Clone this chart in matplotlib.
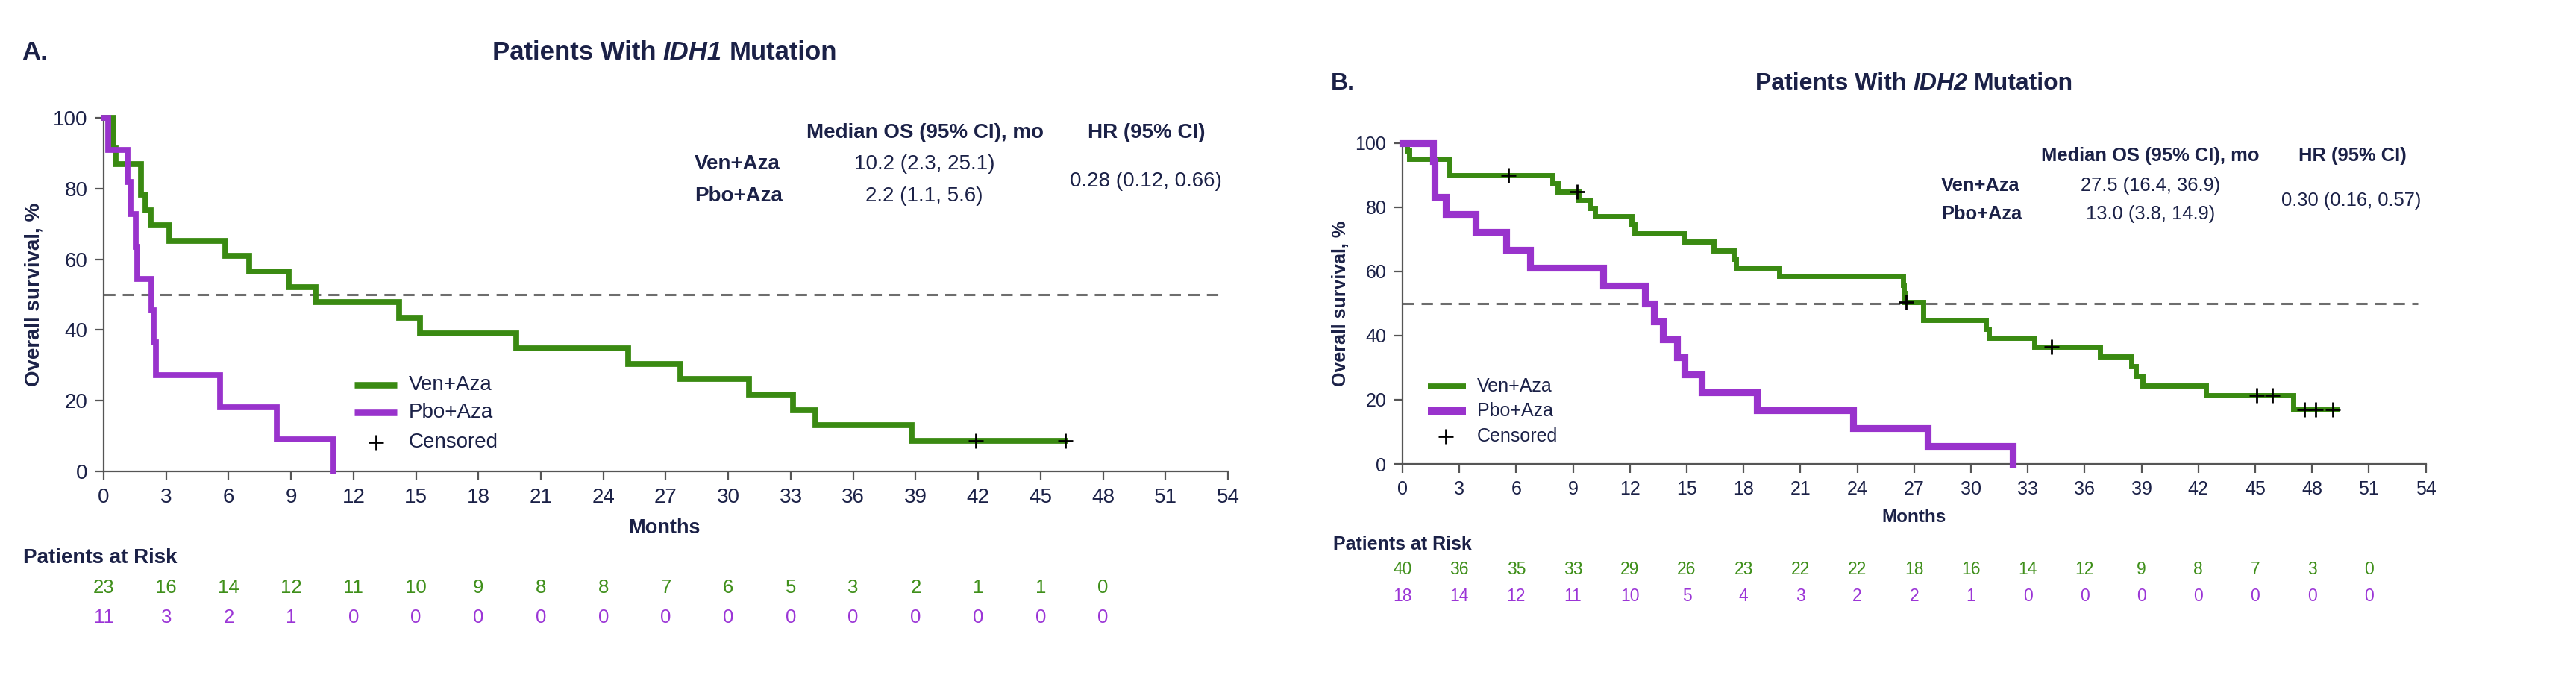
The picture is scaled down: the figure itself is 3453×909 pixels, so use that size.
import matplotlib
matplotlib.use("Agg")
import matplotlib.pyplot as plt
from matplotlib.lines import Line2D
from matplotlib.transforms import blended_transform_factory

plt.rcParams['font.family'] = ['Liberation Sans', 'DejaVu Sans']

navy = '#1b2147'
green = '#3a8a12'
purple = '#9933cc'
green_txt = '#3f8f1a'
purple_txt = '#9b35d6'

# ---- Panel A: IDH1 ----
a_ven_t = [0, 0.45, 0.57, 1.8, 2.0, 2.27, 3.16, 5.84, 6.98, 8.9, 10.16, 14.2, 15.2,
           19.8, 25.2, 27.7, 31.0, 33.1, 34.2, 38.8, 46.2]
a_ven_s = [100, 91.3, 87.0, 78.3, 73.9, 69.6, 65.2, 60.9, 56.5, 52.2, 47.8, 43.5, 39.1,
           34.8, 30.4, 26.1, 21.7, 17.4, 13.0, 8.7, 8.7]
a_ven_cens_t = [41.9, 46.2]
a_ven_cens_s = [8.7, 8.7]
a_pbo_t = [0, 0.2, 1.13, 1.3, 1.55, 1.62, 2.3, 2.4, 2.5, 5.6, 8.3, 11.05]
a_pbo_s = [100, 90.9, 81.8, 72.7, 63.6, 54.5, 45.5, 36.4, 27.3, 18.2, 9.1, 0]
a_risk_months = list(range(0, 49, 3))
a_risk_ven = [23, 16, 14, 12, 11, 10, 9, 8, 8, 7, 6, 5, 3, 2, 1, 1, 0]
a_risk_pbo = [11, 3, 2, 1, 0, 0, 0, 0, 0, 0, 0, 0, 0, 0, 0, 0, 0]
a_median = ['10.2 (2.3, 25.1)', '2.2 (1.1, 5.6)']
a_hr = '0.28 (0.12, 0.66)'

# ---- Panel B: IDH2 ----
b_ven_t = [0, 0.23, 0.36, 2.48, 7.9, 8.17, 9.3, 9.93, 10.16, 12.1, 12.25, 14.9, 16.4,
           17.5, 17.6, 19.9, 26.4, 26.45, 26.5, 27.5, 30.8, 30.95, 33.35, 36.8, 38.46,
           38.7, 39.05, 42.4, 47.0, 49.3]
b_ven_s = [100, 97.5, 95.0, 90.0, 87.4, 84.9, 82.2, 79.6, 77.1, 74.5, 71.8, 69.2, 66.5,
           63.8, 61.2, 58.5, 55.8, 53.2, 50.5, 44.9, 42.1, 39.3, 36.5, 33.5, 30.4,
           27.4, 24.3, 21.3, 17.0, 17.0]
b_ven_cens_t = [5.58, 9.23, 26.56, 34.24, 45.1, 45.9, 47.6, 48.2, 49.1]
b_ven_cens_s = [90.0, 84.9, 50.5, 36.5, 21.3, 21.3, 17.0, 17.0, 17.0]
b_pbo_t = [0, 1.6, 1.7, 2.3, 3.85, 5.47, 6.75, 10.6, 12.8, 13.25, 13.76, 14.5, 14.9,
           15.8, 18.7, 23.8, 27.7, 32.2]
b_pbo_s = [100, 94.4, 83.3, 77.8, 72.2, 66.7, 61.1, 55.6, 50.0, 44.4, 38.9, 33.3, 27.8,
           22.2, 16.7, 11.1, 5.6, 0]
b_risk_months = list(range(0, 52, 3))
b_risk_ven = [40, 36, 35, 33, 29, 26, 23, 22, 22, 18, 16, 14, 12, 9, 8, 7, 3, 0]
b_risk_pbo = [18, 14, 12, 11, 10, 5, 4, 3, 2, 2, 1, 0, 0, 0, 0, 0, 0, 0]
b_median = ['27.5 (16.4, 36.9)', '13.0 (3.8, 14.9)']
b_hr = '0.30 (0.16, 0.57)'

arms = ['Ven+Aza', 'Pbo+Aza']

W, H = 3453, 909
fig = plt.figure(figsize=(W / 100, H / 100), dpi=100)
renderer = fig.canvas.get_renderer()


def px(x, y):
    return x / W, 1 - y / H


def rich_title(xc, yc, parts, size):
    texts = []
    for s, st in parts:
        texts.append(fig.text(0, 0, s, fontsize=size, fontweight='bold', style=st,
                              color=navy, va='center', ha='left'))
    sp = fig.text(0, 0, 'a a', fontsize=size, fontweight='bold')
    sp2 = fig.text(0, 0, 'aa', fontsize=size, fontweight='bold')
    gap = sp.get_window_extent(renderer).width - sp2.get_window_extent(renderer).width
    sp.remove()
    sp2.remove()
    widths = [t.get_window_extent(renderer).width for t in texts]
    total = sum(widths) + gap * (len(texts) - 1)
    x = xc - total / 2
    for t, w in zip(texts, widths):
        t.set_position(px(x, yc))
        x += w + gap


def panel(rect, ven_t, ven_s, ven_ct, ven_cs, pbo_t, pbo_s, risk_m, risk_v, risk_p,
          lw_g, lw_p, fs, geo):
    ax = fig.add_axes(rect)
    ax.step(ven_t, ven_s, where='post', color=green, lw=lw_g, clip_on=False,
            solid_joinstyle='miter', zorder=3)
    ax.step(pbo_t, pbo_s, where='post', color=purple, lw=lw_p, clip_on=False,
            solid_joinstyle='miter', zorder=3)
    ax.plot(ven_ct, ven_cs, '+', color='black', ms=14, mew=2, clip_on=False, zorder=4)
    ax.plot([0, 53.6], [50, 50], color='#6e6e6e', lw=2.2, dashes=(5, 3.2), zorder=2)
    ax.set_xlim(0, 54)
    ax.set_ylim(0, 100)
    ax.set_xticks(range(0, 55, 3))
    ax.set_yticks(range(0, 101, 20))
    for s in ['top', 'right']:
        ax.spines[s].set_visible(False)
    for s in ['left', 'bottom']:
        ax.spines[s].set_color('#555555')
        ax.spines[s].set_linewidth(1.6)
    ax.tick_params(length=8.5, width=1.6, color='#555555', labelsize=fs,
                   labelcolor=navy, pad=7)

    # y label, Months, risk table
    fig.text(*px(geo['ylab_x'], geo['ycen']), 'Overall survival, %', rotation=90,
             fontsize=fs, fontweight='bold', color=navy, ha='center', va='center')
    fig.text(*px(geo['months_x'], geo['months_y']), 'Months', fontsize=fs - 0.5,
             fontweight='bold', color=navy, ha='center', va='center')
    fig.text(*px(geo['par_x'], geo['par_y']), 'Patients at Risk', fontsize=fs,
             fontweight='bold', color=navy, ha='left', va='center')
    tr = blended_transform_factory(ax.transData, fig.transFigure)
    for m, v, p in zip(risk_m, risk_v, risk_p):
        ax.text(m, px(0, geo['r1'])[1], str(v), transform=tr, fontsize=fs - 1.5,
                color=green_txt, ha='center', va='center')
        ax.text(m, px(0, geo['r2'])[1], str(p), transform=tr, fontsize=fs - 1.5,
                color=purple_txt, ha='center', va='center')

    # legend
    lx0, lx1, ltx, plx = geo['leg_x']
    for yy, col, lw, lab in zip(geo['leg_y'][:2], [green, purple], [lw_g, lw_p], arms):
        fig.add_artist(Line2D([lx0 / W, lx1 / W], [1 - yy / H] * 2, color=col, lw=lw + 0.6,
                              solid_capstyle='butt'))
        fig.text(*px(ltx, yy), lab, fontsize=fs, color=navy, ha='left', va='center')
    yy = geo['leg_y'][2]
    fig.add_artist(Line2D([plx / W], [1 - yy / H], marker='+', color='black', ms=14, mew=2))
    fig.text(*px(ltx, yy), 'Censored', fontsize=fs, color=navy, ha='left', va='center')
    return ax


# Panel A
axA = panel([139 / W, 1 - 632 / H, (1646 - 139) / W, (632 - 158) / H],
            a_ven_t, a_ven_s, a_ven_cens_t, a_ven_cens_s, a_pbo_t, a_pbo_s,
            a_risk_months, a_risk_ven, a_risk_pbo, 5.6, 5.6, 20,
            dict(ylab_x=46, ycen=395, months_x=890, months_y=708, par_x=31, par_y=748,
                 r1=788, r2=828, leg_x=(475, 532, 548, 504), leg_y=(516, 553, 593)))
fig.text(*px(29, 70), 'A.', fontsize=25, fontweight='bold', color=navy, ha='left', va='center')
rich_title(891, 71, [('Patients With', 'normal'), ('IDH1', 'italic'), ('Mutation', 'normal')], 25)
fig.text(*px(1240, 178), 'Median OS (95% CI), mo', fontsize=20, fontweight='bold',
         color=navy, ha='center', va='center')
fig.text(*px(1537, 178), 'HR (95% CI)', fontsize=20, fontweight='bold', color=navy,
         ha='center', va='center')
for yy, arm, med in zip([220, 263], arms, a_median):
    fig.text(*px(931, yy), arm, fontsize=20, fontweight='bold', color=navy, ha='left', va='center')
    fig.text(*px(1239, yy), med, fontsize=20, color=navy, ha='center', va='center')
fig.text(*px(1536, 243), a_hr, fontsize=20, color=navy, ha='center', va='center')

# Panel B
axB = panel([1880 / W, 1 - 622 / H, (3251.5 - 1880) / W, (622 - 191.7) / H],
            b_ven_t, b_ven_s, b_ven_cens_t, b_ven_cens_s, b_pbo_t, b_pbo_s,
            b_risk_months, b_risk_ven, b_risk_pbo, 5.0, 6.6, 18,
            dict(ylab_x=1797, ycen=407, months_x=2566, months_y=693, par_x=1787, par_y=730,
                 r1=763, r2=800, leg_x=(1914, 1965, 1980, 1938), leg_y=(518, 551, 585)))
fig.text(*px(1784, 112), 'B.', fontsize=23, fontweight='bold', color=navy, ha='left', va='center')
rich_title(2566, 112, [('Patients With', 'normal'), ('IDH2', 'italic'), ('Mutation', 'normal')], 23)
fig.text(*px(2882, 209), 'Median OS (95% CI), mo', fontsize=18.4, fontweight='bold',
         color=navy, ha='center', va='center')
fig.text(*px(3153, 209), 'HR (95% CI)', fontsize=18.4, fontweight='bold', color=navy,
         ha='center', va='center')
for yy, arm, med in zip([249, 287], arms, b_median):
    fig.text(*px(2602, yy), arm, fontsize=18.4, fontweight='bold', color=navy, ha='left', va='center')
    fig.text(*px(2883, yy), med, fontsize=18.4, color=navy, ha='center', va='center')
fig.text(*px(3152, 269), b_hr, fontsize=18.4, color=navy, ha='center', va='center')

fig.savefig('out.png', dpi=100)
